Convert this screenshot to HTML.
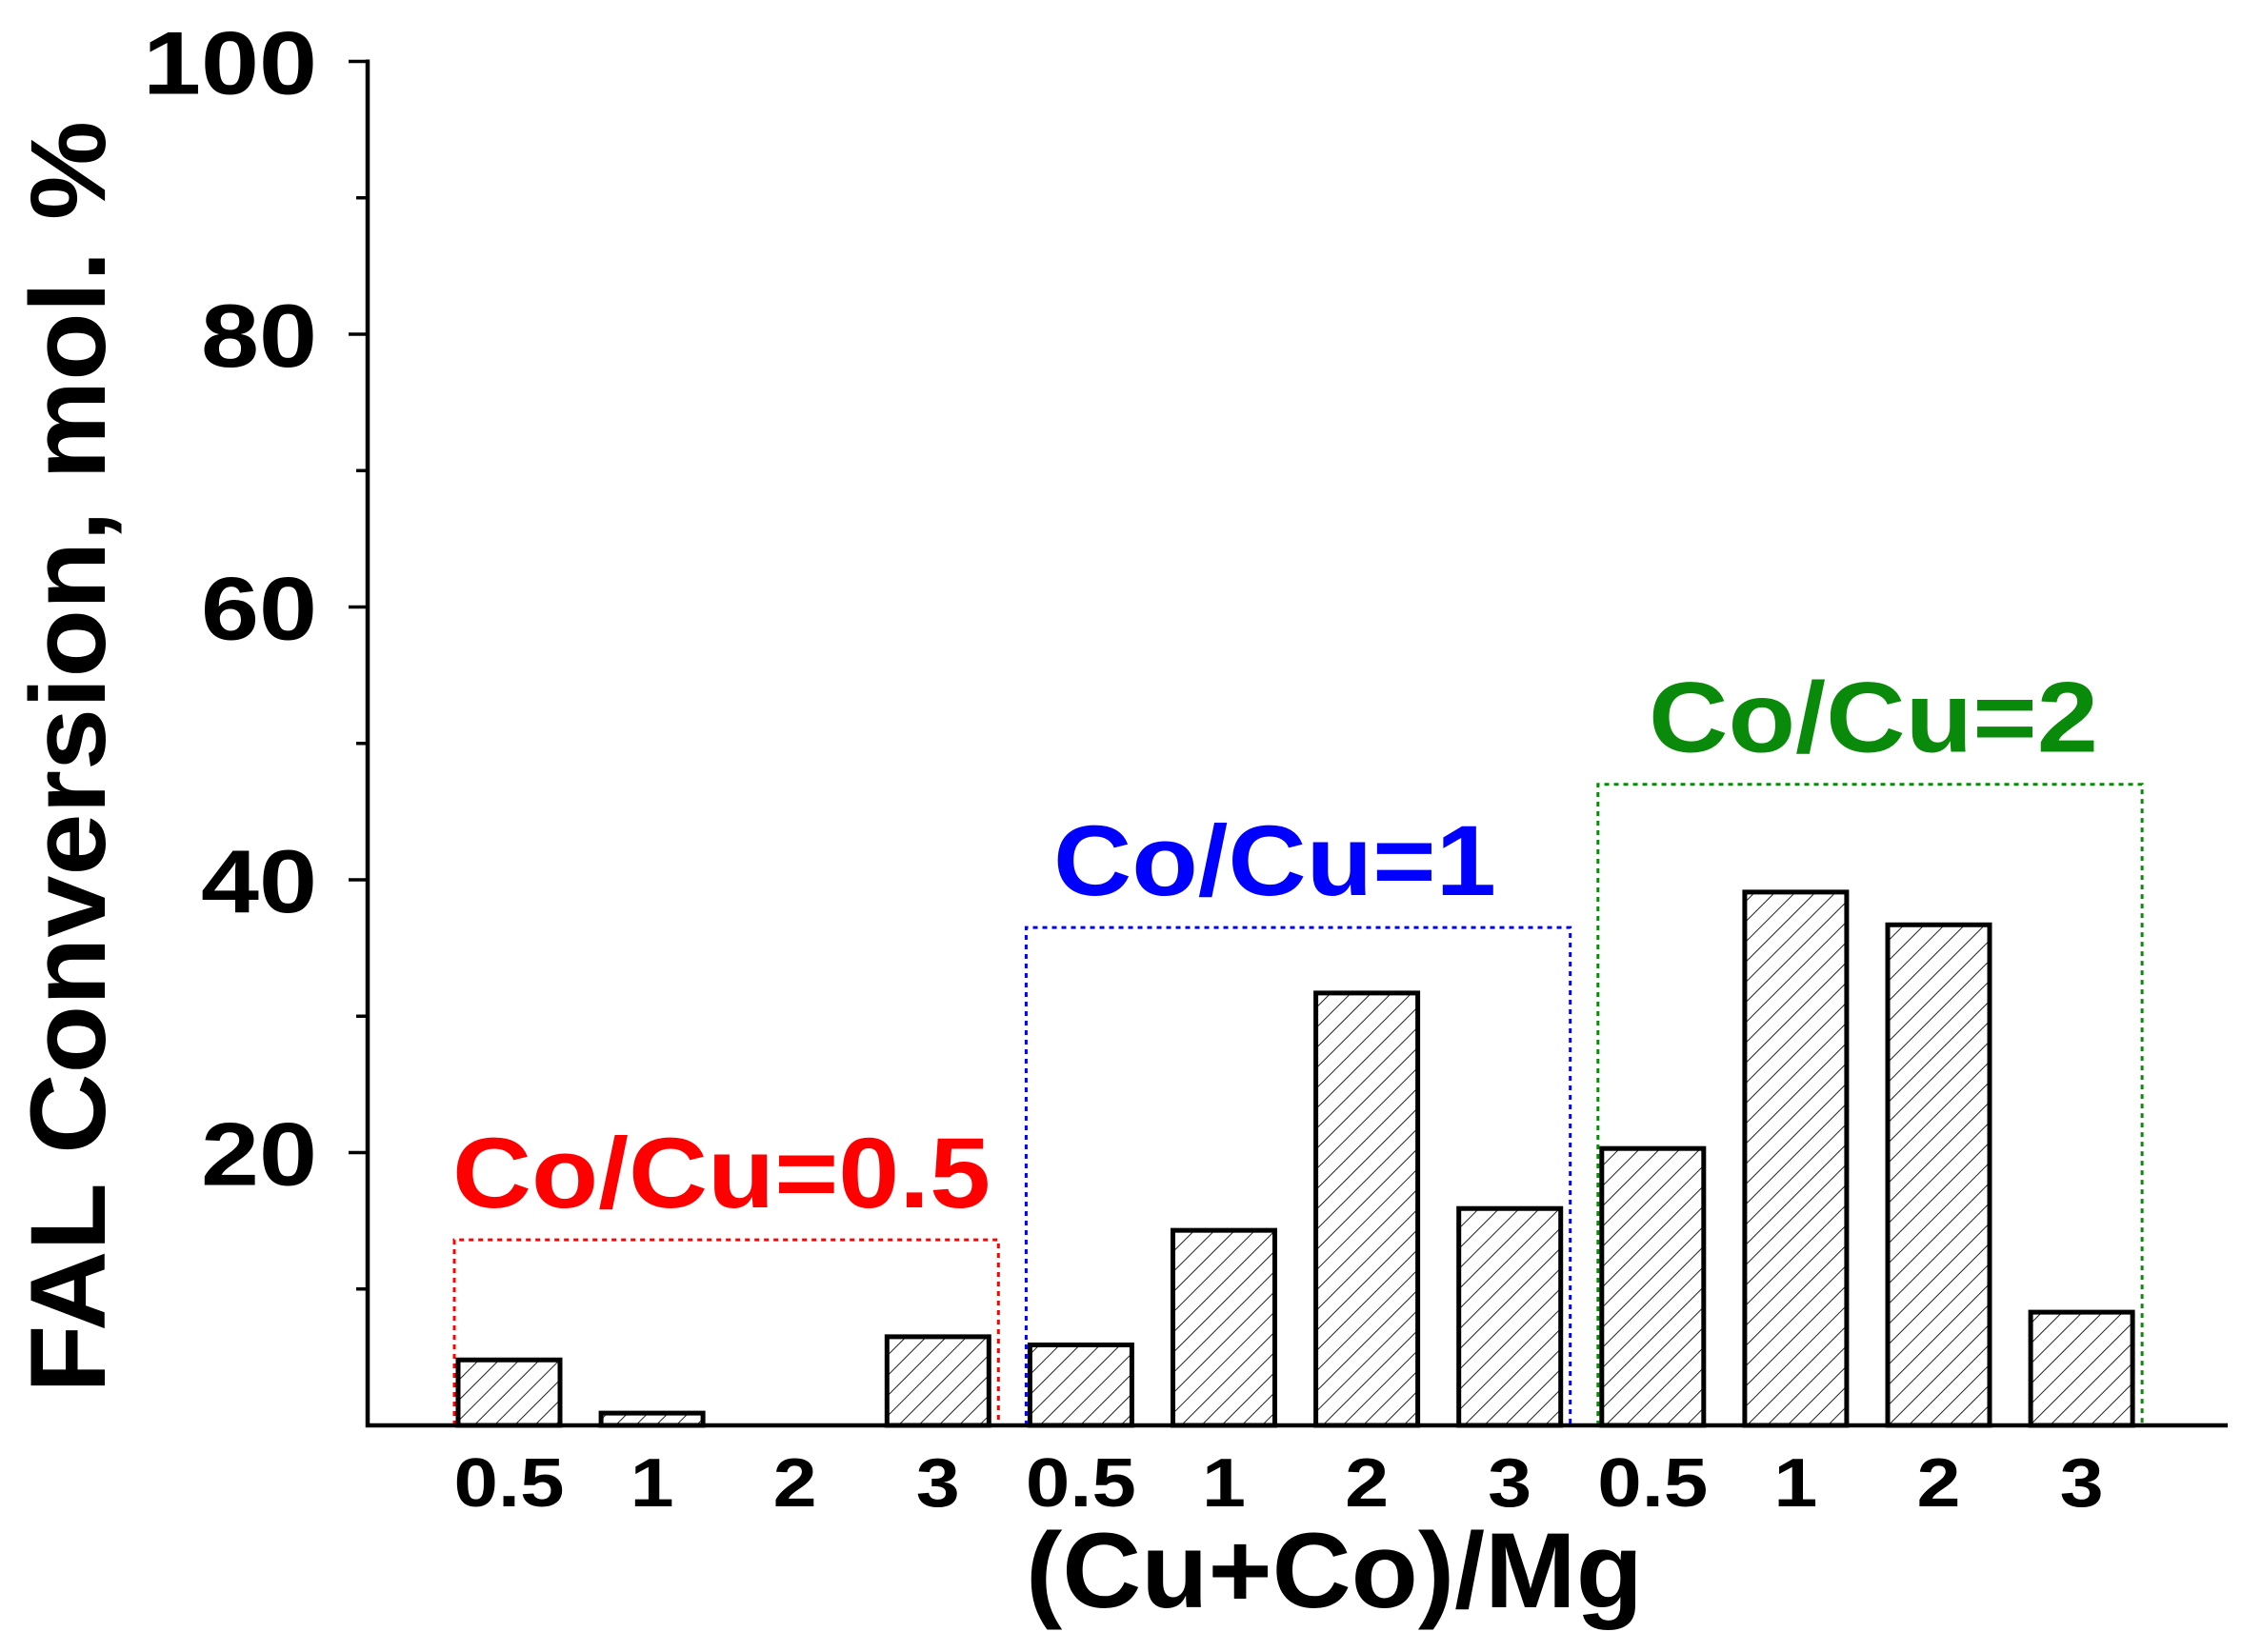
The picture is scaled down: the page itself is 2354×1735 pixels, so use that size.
<!DOCTYPE html>
<html><head><meta charset="utf-8"><style>
html,body{margin:0;padding:0;background:#fff}
svg{display:block}
text{font-family:"Liberation Sans",Arial,sans-serif;font-weight:bold}
</style></head><body>
<svg id="chart" width="2354" height="1735" viewBox="0 0 2354 1735" xmlns="http://www.w3.org/2000/svg">
<defs>
<pattern id="hatch" patternUnits="userSpaceOnUse" width="15" height="15" patternTransform="rotate(45)">
<line x1="0" y1="0" x2="0" y2="15" stroke="#222" stroke-width="2"/>
</pattern>
</defs>
<g id="plot"></g>
</svg>
<script>
const categories = ["0.5","1","2","3","0.5","1","2","3","0.5","1","2","3"];
const values = [4.8, 0.9, 0, 6.5, 5.9, 14.3, 31.7, 15.9, 20.3, 39.1, 36.7, 8.3];
const yTicks = [20, 40, 60, 80, 100];
const groupLabels = ["Co/Cu=0.5", "Co/Cu=1", "Co/Cu=2"];
const groupTops = [13.6, 36.5, 47];
const groupColors = ["#ff0000", "#0000ff", "#0a8a0a"];

const NS = "http://www.w3.org/2000/svg";
const g = document.getElementById("plot");
const X0 = 386, Y0 = 1497, YTOP = 64.5, XEND = 2339;
const y = v => Y0 - (v / 100) * (Y0 - YTOP);
const xc = i => 534.5 + 150.1 * i;
const BW = 107;
function el(tag, attrs, parent) {
  const e = document.createElementNS(NS, tag);
  for (const k in attrs) e.setAttribute(k, attrs[k]);
  (parent || g).appendChild(e);
  return e;
}

// group boxes
groupLabels.forEach((lab, k) => {
  const x1 = xc(k * 4) - BW / 2 - 4, x2 = xc(k * 4 + 3) + BW / 2 + 10;
  const p = el("polyline", {points: `${x1},${Y0} ${x1},${y(groupTops[k])} ${x2},${y(groupTops[k])} ${x2},${Y0}`, fill: "none", stroke: groupColors[k], "stroke-width": 3, "stroke-dasharray": "5 5"});
  
  
  const widths = [565, 465, 472];
  const t = el("text", {x: [475, 1106, 1731][k], y: y(groupTops[k]) - 34, fill: groupColors[k], "font-size": 105, textLength: widths[k], lengthAdjust: "spacingAndGlyphs"});
  t.textContent = lab;
  
  
});

// bars
values.forEach((v, i) => {
  if (v <= 0) return;
  const r = el("rect", {x: xc(i) - BW / 2, y: y(v), width: BW, height: Y0 - y(v), fill: "url(#hatch)", stroke: "#000", "stroke-width": 5});
  
  
});

// x labels
categories.forEach((c, i) => {
  const w = c.length === 3 ? 116 : 46;
  const t = el("text", {x: xc(i) - w / 2, y: 1582, "font-size": 72, textLength: w, lengthAdjust: "spacingAndGlyphs"});
  t.textContent = c;
  
  
});

// axes
const ax = el("path", {d: `M${X0},${YTOP - 2} L${X0},${Y0} L${XEND},${Y0}`, fill: "none", stroke: "#000", "stroke-width": 4.5});


for (let v = 10; v <= 100; v += 10) {
  const major = v % 20 === 0;
  const tk = el("line", {x1: X0 - (major ? 20 : 12), x2: X0, y1: y(v), y2: y(v), stroke: "#000", "stroke-width": 3.5});
  
  
}
yTicks.forEach(v => {
  const s = String(v);
  const w = s.length * 61;
  const t = el("text", {x: 333 - w, y: y(v) + 34, "font-size": 94, textLength: w, lengthAdjust: "spacingAndGlyphs"});
  t.textContent = s;
  
  
});

const xt = el("text", {x: 1077, y: 1688, "font-size": 112, textLength: 648, lengthAdjust: "spacingAndGlyphs"});
xt.textContent = "(Cu+Co)/Mg";



const yt = el("text", {x: 0, y: 0, "font-size": 112, transform: "translate(110,1463) rotate(-90)", textLength: 1336, lengthAdjust: "spacingAndGlyphs"});
yt.textContent = "FAL Conversion, mol. %";


</script>
</body></html>
